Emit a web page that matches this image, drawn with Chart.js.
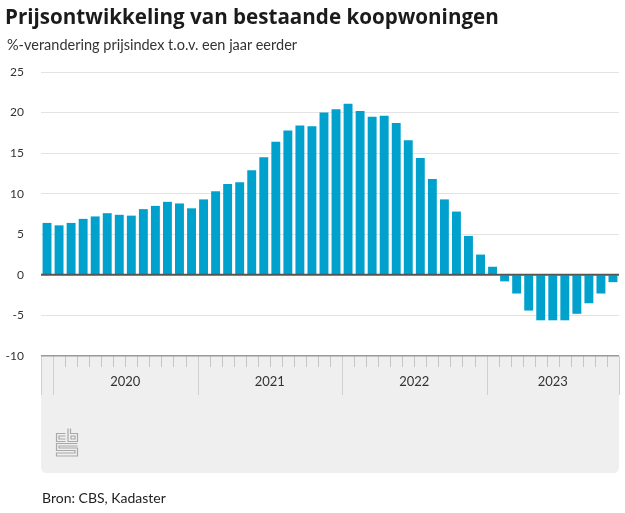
<!DOCTYPE html>
<html><head><meta charset="utf-8">
<script src="https://cdn.jsdelivr.net/npm/chart.js@4.4.0/dist/chart.umd.min.js"></script>
<style>
html,body{margin:0;padding:0;background:#fff;}
#wrap{position:relative;width:625px;height:513px;overflow:hidden;font-family:Lato,"Noto Sans",sans-serif;}
#title{position:absolute;left:5px;top:2px;font-family:"Open Sans",sans-serif;font-size:20.6px;line-height:28px;font-weight:700;color:#1b1b1b;white-space:nowrap;}
#sub{position:absolute;left:7px;top:36px;font-size:14.5px;line-height:18px;color:#333;white-space:nowrap;}
#src{position:absolute;left:42px;top:489px;font-size:14px;line-height:18px;color:#222;white-space:nowrap;}
#c{position:absolute;left:0;top:0;}
</style></head>
<body><div id="wrap">
<canvas id="c" width="625" height="513"></canvas>
<div id="title">Prijsontwikkeling van bestaande koopwoningen</div>
<div id="sub">%-verandering prijsindex t.o.v. een jaar eerder</div>
<div id="src">Bron: CBS, Kadaster</div>
</div>
<script>
const MONTHS = [
 '2019-12',
 '2020-01','2020-02','2020-03','2020-04','2020-05','2020-06','2020-07','2020-08','2020-09','2020-10','2020-11','2020-12',
 '2021-01','2021-02','2021-03','2021-04','2021-05','2021-06','2021-07','2021-08','2021-09','2021-10','2021-11','2021-12',
 '2022-01','2022-02','2022-03','2022-04','2022-05','2022-06','2022-07','2022-08','2022-09','2022-10','2022-11','2022-12',
 '2023-01','2023-02','2023-03','2023-04','2023-05','2023-06','2023-07','2023-08','2023-09','2023-10','2023-11'
];
const VALUES = [
 6.4,
 6.1, 6.4, 6.9, 7.2, 7.6, 7.4, 7.3, 8.1, 8.5, 9.0, 8.8, 8.2,
 9.3, 10.3, 11.2, 11.4, 12.9, 14.5, 16.4, 17.8, 18.4, 18.3, 20.0, 20.4,
 21.1, 20.2, 19.5, 19.6, 18.7, 16.6, 14.4, 11.8, 9.3, 7.8, 4.8, 2.5,
 1.0, -0.8, -2.3, -4.4, -5.6, -5.6, -5.6, -4.8, -3.5, -2.3, -0.9
];
const Y_TICKS = [-10, -5, 0, 5, 10, 15, 20, 25];
const YEARS = ['2020', '2021', '2022', '2023'];
const YEAR_START = [1, 13, 25, 37];   // index of January in MONTHS
const YEAR_LABEL_POS = [7, 19, 31, 42.5];

const panelPlugin = {
  id: 'panel',
  beforeDraw(chart) {
    const {ctx, chartArea: a} = chart;
    const x = chart.scales.x;
    const n = MONTHS.length;
    const top = a.bottom, bot = 473, r = 6;
    ctx.save();
    ctx.fillStyle = '#efefef';
    ctx.beginPath();
    ctx.moveTo(a.left, top);
    ctx.lineTo(a.right, top);
    ctx.lineTo(a.right, bot - r);
    ctx.quadraticCurveTo(a.right, bot, a.right - r, bot);
    ctx.lineTo(a.left + r, bot);
    ctx.quadraticCurveTo(a.left, bot, a.left, bot - r);
    ctx.closePath();
    ctx.fill();
    // tick marks at month boundaries
    ctx.lineWidth = 1;
    for (let i = 0; i <= n; i++) {
      let px;
      if (i === 0) px = a.left; else if (i === n) px = a.right;
      else px = (x.getPixelForValue(i - 1) + x.getPixelForValue(i)) / 2;
      px = Math.round(px) + 0.5;
      const major = i === 0 || i === n || YEAR_START.includes(i);
      ctx.strokeStyle = major ? '#cfcfcf' : '#c6c6c6';
      ctx.beginPath();
      ctx.moveTo(px, top);
      ctx.lineTo(px, top + (major ? 39 : 11));
      ctx.stroke();
    }
    // CBS logo
    ctx.strokeStyle = '#a8a8a8';
    ctx.lineWidth = 1.2;
    const L = 56.5, T = 428.5;
    ctx.beginPath();
    ctx.moveTo(L + 9, T + 5); ctx.lineTo(L, T + 5); ctx.lineTo(L, T + 13); ctx.lineTo(L + 9, T + 13);
    ctx.moveTo(L + 9, T + 7.5); ctx.lineTo(L + 2.5, T + 7.5); ctx.lineTo(L + 2.5, T + 10.5); ctx.lineTo(L + 9, T + 10.5);
    ctx.moveTo(L + 11.5, T); ctx.lineTo(L + 11.5, T + 13); ctx.lineTo(L + 21, T + 13); ctx.lineTo(L + 21, T + 5); ctx.lineTo(L + 14, T + 5); ctx.lineTo(L + 14, T);
    ctx.rect(L + 14.5, T + 7.5, 4, 3);
    ctx.moveTo(L + 21, T + 15); ctx.lineTo(L, T + 15); ctx.lineTo(L, T + 22); ctx.lineTo(L + 18.5, T + 22); ctx.lineTo(L + 18.5, T + 24.5); ctx.lineTo(L, T + 24.5); ctx.lineTo(L, T + 27.5); ctx.lineTo(L + 21, T + 27.5); ctx.lineTo(L + 21, T + 19.5); ctx.lineTo(L + 2.5, T + 19.5); ctx.lineTo(L + 2.5, T + 17.5); ctx.lineTo(L + 21, T + 17.5);
    ctx.stroke();
    ctx.restore();
  },
  afterDatasetsDraw(chart) {
    const {ctx, chartArea: a} = chart;
    const y0 = chart.scales.y.getPixelForValue(0);
    ctx.save();
    ctx.strokeStyle = '#555';
    ctx.lineWidth = 2;
    ctx.beginPath();
    ctx.moveTo(a.left, y0);
    ctx.lineTo(a.right, y0);
    ctx.stroke();
    ctx.restore();
  }
};

Chart.defaults.font.family = 'Lato, "Noto Sans", sans-serif';

new Chart(document.getElementById('c'), {
  type: 'bar',
  data: {
    labels: MONTHS,
    datasets: [{
      data: VALUES,
      backgroundColor: '#00a1cd',
      borderWidth: 0,
      barPercentage: 0.74,
      categoryPercentage: 1.0
    }]
  },
  options: {
    responsive: false,
    animation: false,
    events: [],
    layout: {padding: {left: 0, right: 6, top: 72, bottom: 0}},
    plugins: {legend: {display: false}, tooltip: {enabled: false}, title: {display: false}},
    scales: {
      x: {type: 'category', display: false, offset: true},
      xYear: {
        type: 'linear', position: 'bottom', min: 0, max: MONTHS.length, offset: false,
        grid: {display: false, drawTicks: false, offset: false},
        border: {display: false},
        afterBuildTicks: s => { s.ticks = YEAR_LABEL_POS.map(v => ({value: v})); },
        afterFit: s => { s.height = 157; },
        ticks: {autoSkip: false, maxRotation: 0, padding: 18, color: '#333', font: {size: 13},
                callback: (v, i) => YEARS[i]}
      },
      y: {
        min: -10, max: 25,
        afterBuildTicks: s => { s.ticks = Y_TICKS.map(v => ({value: v})); },
        afterFit: s => { s.width = 41; },
        border: {display: false},
        grid: {
          drawTicks: false,
          color: c => c.tick.value === -10 ? '#9a9a9a' : (c.tick.value === 0 ? 'rgba(0,0,0,0)' : '#e3e3e3'),
          lineWidth: c => c.tick.value === -10 ? 1.5 : 1
        },
        ticks: {padding: 17, color: '#333', font: {size: 12}}
      }
    }
  },
  plugins: [panelPlugin]
});
</script>
</body></html>
